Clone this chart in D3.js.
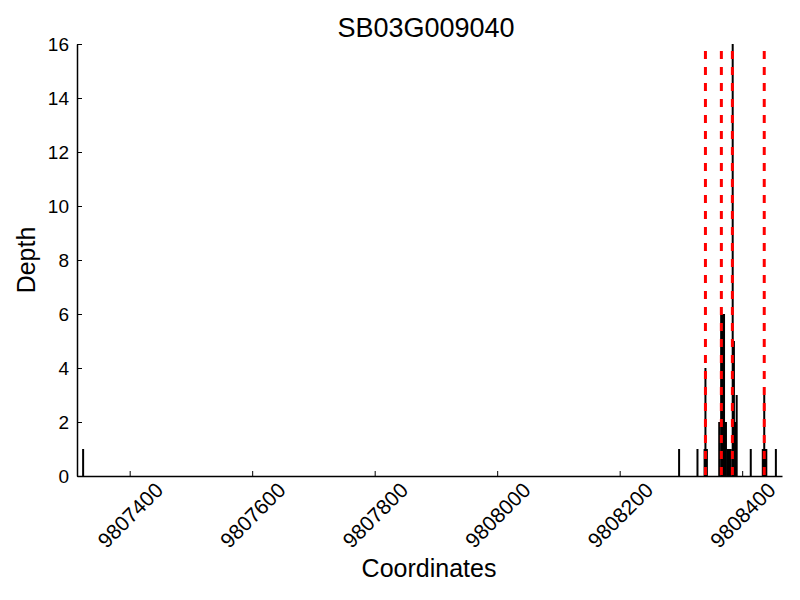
<html>
<script src="https://d3js.org/d3.v7.min.js"></script>
<body style="margin:0">
</body>
</html>

<script type="text/javascript">

// depth segments: start coordinate, end coordinate, read depth
var segStart = [9807323, 9808296, 9808326, 9808337, 9808339, 9808361, 9808364, 9808372, 9808375, 9808383, 9808386, 9808387, 9808390, 9808413, 9808432, 9808435, 9808454];
var segEnd   = [9807325, 9808298, 9808328, 9808344, 9808341, 9808364, 9808372, 9808375, 9808383, 9808386, 9808387, 9808390, 9808392, 9808415, 9808441, 9808437, 9808456];
var segDepth = [1, 1, 1, 1, 4, 2, 6, 2, 1, 16, 5, 2, 3, 1, 1, 3, 1];

// red dashed marker positions
var markers = [9808340, 9808366, 9808384, 9808436];

var xTicks = [9807400, 9807600, 9807800, 9808000, 9808200, 9808400];
var yTicks = [0, 2, 4, 6, 8, 10, 12, 14, 16];
var xDomain = [9807314, 9808465];
var yDomain = [0, 16];

var data = segStart.map(function(s, i){ return {start: s, end: segEnd[i], depth: segDepth[i]}; });

var svg = d3.select("body")
	.append("svg")
	.attr("width", 800)
	.attr("height", 600)
	.style("font-family", "Liberation Sans, Arial, sans-serif");

svg.append("rect").attr("width", 800).attr("height", 600).attr("fill", "white");

var mLeft = 77, mRight = 782, mTop = 44, mBottom = 476;

var x_scale = d3.scaleLinear().domain(xDomain).range([mLeft, mRight]);
var y_scale = d3.scaleLinear().domain(yDomain).range([mBottom, mTop]);

// bars
svg.append("g").selectAll("rect").data(data)
	.enter().append("rect")
	.attr("x", function(d){ var w = x_scale(d.end) - x_scale(d.start); return w < 2 ? (x_scale(d.start) + x_scale(d.end)) / 2 - 1 : x_scale(d.start); })
	.attr("width", function(d){ return Math.max(2, x_scale(d.end) - x_scale(d.start)); })
	.attr("y", function(d){ return y_scale(d.depth); })
	.attr("height", function(d){ return y_scale(0) - y_scale(d.depth); })
	.attr("fill", "black");

// markers
svg.append("g").selectAll("line").data(markers)
	.enter().append("line")
	.attr("x1", function(d){ return x_scale(d); })
	.attr("x2", function(d){ return x_scale(d); })
	.attr("y1", y_scale(16))
	.attr("y2", y_scale(0))
	.attr("stroke", "red")
	.attr("stroke-width", 3)
	.attr("stroke-dasharray", "8,8")
	.attr("stroke-dashoffset", 9);

// x axis
var xAxis = svg.append("g")
	.attr("transform", "translate(0," + mBottom + ")")
	.call(d3.axisBottom(x_scale).tickValues(xTicks).tickSizeInner(-5).tickSizeOuter(0).tickFormat(d3.format("d")));
xAxis.select(".domain").attr("stroke-width", 1.5);
xAxis.selectAll(".tick line").attr("stroke-width", 1);
xAxis.selectAll(".tick text")
	.attr("font-size", 21)
	.attr("font-family", "Liberation Sans, Arial, sans-serif")
	.attr("fill", "black")
	.attr("text-anchor", "middle")
	.attr("dy", null)
	.attr("y", null)
	.attr("dominant-baseline", "central")
	.attr("transform", "translate(0,39) rotate(-45)");

// y axis
var yAxis = svg.append("g")
	.attr("transform", "translate(" + mLeft + ",0)")
	.call(d3.axisLeft(y_scale).tickValues(yTicks).tickSizeInner(-5).tickSizeOuter(0));
yAxis.select(".domain").attr("stroke-width", 1.5);
yAxis.selectAll(".tick text")
	.attr("font-size", 19)
	.attr("font-family", "Liberation Sans, Arial, sans-serif")
	.attr("fill", "black")
	.attr("x", -8);

// titles
svg.append("text")
	.attr("x", 426).attr("y", 37)
	.attr("text-anchor", "middle")
	.attr("font-size", 27)
	.text("SB03G009040");

svg.append("text")
	.attr("x", 429).attr("y", 577)
	.attr("text-anchor", "middle")
	.attr("font-size", 25)
	.text("Coordinates");

svg.append("text")
	.attr("transform", "translate(35,260) rotate(-90)")
	.attr("text-anchor", "middle")
	.attr("font-size", 25)
	.text("Depth");
</script>
